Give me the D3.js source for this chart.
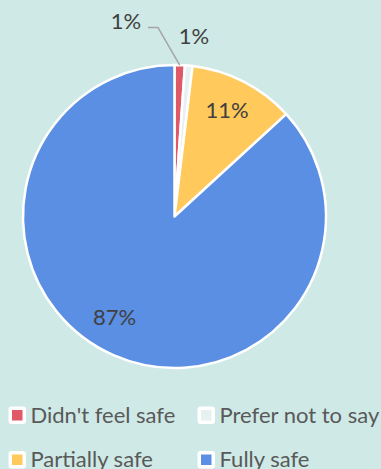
<!DOCTYPE html>
<html>
<head>
<meta charset="utf-8">
<script src="https://cdn.jsdelivr.net/npm/d3@7"></script>
<style>
  html, body { margin: 0; padding: 0; background: #cfe9e6; }
  svg { display: block; font-family: Lato, "Open Sans", sans-serif; }
</style>
</head>
<body>
<div id="chart"></div>
<script>
const categories = ["Didn't feel safe", "Prefer not to say", "Partially safe", "Fully safe"];
const values     = [1.1, 0.8, 11.3, 86.8];
const labels     = ["1%", "1%", "11%", "87%"];
const colors     = ["#df5a66", "#e6f2f1", "#ffc95c", "#5b8fe3"];

const width = 381, height = 469;
const cx = 174.5, cy = 216.5, radius = 151.5;

const data = categories.map((c, i) => ({ name: c, value: values[i], label: labels[i], color: colors[i] }));

const svg = d3.select("#chart").append("svg")
  .attr("width", width)
  .attr("height", height);

const pie = d3.pie().sort(null).value(d => d.value);
const arcs = pie(data);
const arc = d3.arc().innerRadius(0).outerRadius(radius);

const g = svg.append("g").attr("transform", `translate(${cx},${cy})`);

g.selectAll("path.slice")
  .data(arcs)
  .join("path")
    .attr("class", "slice")
    .attr("d", arc)
    .attr("fill", d => d.data.color)
    .attr("stroke", "#fff")
    .attr("stroke-width", 2.5)
    .attr("stroke-linejoin", "round");

// label placement (manually nudged, like the excel chart)
const labelPos = [
  { x: 126, y: 29 },
  { x: 194, y: 44 },
  { x: 227, y: 118 },
  { x: 114.5, y: 325 }
];

// leader line for the first small slice
const a0 = arcs[0];
const mid0 = (a0.startAngle + a0.endAngle) / 2;
const tip = [cx + Math.sin(mid0) * radius, cy - Math.cos(mid0) * radius];
svg.append("polyline")
  .attr("points", [[148, 27.5], [158, 27.5], tip].map(p => p.join(",")).join(" "))
  .attr("fill", "none")
  .attr("stroke", "#a6a6a6")
  .attr("stroke-width", 1.5);

svg.selectAll("text.pct")
  .data(arcs)
  .join("text")
    .attr("class", "pct")
    .attr("x", (d, i) => labelPos[i].x)
    .attr("y", (d, i) => labelPos[i].y)
    .attr("text-anchor", "middle")
    .attr("fill", "#404040")
    .attr("font-size", 22)
    .text(d => d.data.label);

// legend, 2 x 2
const legendX = [8.5, 197.5];
const legendY = [406.5, 451];
const leg = svg.selectAll("g.legend")
  .data(data)
  .join("g")
    .attr("class", "legend")
    .attr("transform", (d, i) => `translate(${legendX[i % 2]},${legendY[Math.floor(i / 2)]})`);

leg.append("rect")
  .attr("width", 17.5).attr("height", 17.5)
  .attr("rx", 3)
  .attr("fill", "#fff");

leg.append("rect")
  .attr("x", 3.5).attr("y", 3.5)
  .attr("width", 10.5).attr("height", 10.5)
  .attr("fill", d => d.color);

leg.append("text")
  .attr("x", 22)
  .attr("y", 16)
  .attr("fill", "#595959")
  .attr("font-size", 22)
  .text(d => d.name);
</script>
</body>
</html>
